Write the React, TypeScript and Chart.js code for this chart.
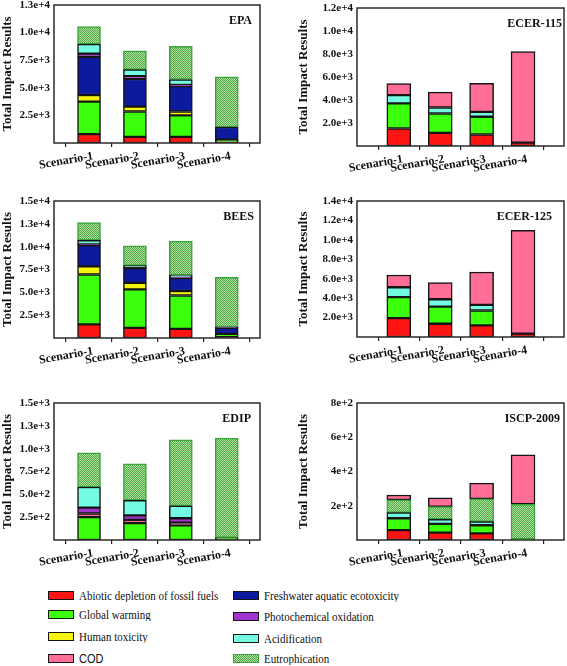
import React, { useEffect, useRef } from 'react';
import { Chart, registerables } from 'chart.js';

Chart.register(...registerables);

const SCENARIOS = ['Scenario-1', 'Scenario-2', 'Scenario-3', 'Scenario-4'];
const Y_TITLE = 'Total Impact Results';

// Impact categories
const ABIOTIC = 'Abiotic depletion of fossil fuels';
const GLOBAL = 'Global warming';
const HUMAN = 'Human toxicity';
const COD = 'COD';
const FRESH = 'Freshwater aquatic ecotoxicity';
const PHOTO = 'Photochemical oxidation';
const ACID = 'Acidification';
const EUTRO = 'Eutrophication';

// EPA
const EPA_ABIOTIC = [800, 550, 550, 50];
const EPA_GLOBAL = [2950, 2300, 1950, 250];
const EPA_HUMAN = [600, 450, 350, 0];
const EPA_FRESH = [3450, 2500, 2300, 1150];
const EPA_PHOTO = [300, 250, 100, 0];
const EPA_ACID = [850, 600, 500, 0];
const EPA_EUTRO = [1600, 1700, 3000, 4550];

// BEES
const BEES_ABIOTIC = [1500, 1100, 1000, 100];
const BEES_GLOBAL = [5450, 4230, 3650, 350];
const BEES_HUMAN = [900, 700, 500, 0];
const BEES_FRESH = [2300, 1600, 1400, 650];
const BEES_PHOTO = [100, 50, 100, 100];
const BEES_ACID = [450, 250, 250, 0];
const BEES_EUTRO = [1950, 2150, 3700, 5450];

// EDIP
const EDIP_GLOBAL = [250, 185, 160, 25];
const EDIP_COD = [40, 35, 30, 0];
const EDIP_PHOTO = [65, 50, 48, 0];
const EDIP_ACID = [225, 165, 135, 0];
const EDIP_EUTRO = [375, 400, 725, 1090];

// ECER-115
const E115_ABIOTIC = [1520, 1140, 1000, 300];
const E115_GLOBAL = [2190, 1690, 1540, 0];
const E115_ACID = [720, 520, 430, 0];
const E115_COD = [990, 1340, 2480, 7920];

// ECER-125
const E125_ABIOTIC = [1950, 1360, 1190, 340];
const E125_GLOBAL = [2150, 1770, 1540, 0];
const E125_ACID = [1020, 760, 580, 0];
const E125_COD = [1260, 1700, 3380, 10650];

// ISCP-2009
const ISCP_ABIOTIC = [58, 43, 39, 0];
const ISCP_GLOBAL = [69, 51, 47, 5];
const ISCP_ACID = [33, 27, 21, 0];
const ISCP_EUTRO = [74, 74, 133, 204];
const ISCP_COD = [29, 51, 92, 288];

const COLORS: Record<string, string> = {
  [ABIOTIC]: '#ff1414',
  [GLOBAL]: '#3cff0c',
  [HUMAN]: '#f4f40c',
  [COD]: '#ff6e96',
  [FRESH]: '#0c1a9e',
  [PHOTO]: '#a034cc',
  [ACID]: '#74fce2',
  [EUTRO]: 'pattern',
};

const LEGEND_LEFT = [ABIOTIC, GLOBAL, HUMAN, COD];
const LEGEND_RIGHT = [FRESH, PHOTO, ACID, EUTRO];

const SERIF = '"Liberation Serif", "Times New Roman", serif';
const SANS = '"Liberation Sans", Arial, sans-serif';

const PAT_DARK = '#4fa645';
const PAT_LIGHT = '#b2e2a2';

type Box = { x: number; y: number; w: number; h: number };
type Rect = { left: number; top: number; right: number; bottom: number };
type PanelCfg = {
  title: string;
  titlePad: number;
  yMax: number;
  yStep: number;
  digits: number;
  xMin: number;
  xMax: number;
  barWidth: number;
  box: Box;
  plot: Rect;
  series: [string, number[]][];
};

const LEFT_X = { xMin: -0.763, xMax: 3.725, barWidth: 23 };
const RIGHT_X = { xMin: -1.01, xMax: 3.99, barWidth: 24 };

const PANELS: PanelCfg[] = [
  {
    title: 'EPA', titlePad: 8, yMax: 12500, yStep: 2500, digits: 1, ...LEFT_X,
    box: { x: 0, y: 0, w: 283, h: 185 },
    plot: { left: 54, top: 5, right: 260, bottom: 143 },
    series: [[ABIOTIC, EPA_ABIOTIC], [GLOBAL, EPA_GLOBAL], [HUMAN, EPA_HUMAN], [FRESH, EPA_FRESH], [PHOTO, EPA_PHOTO], [ACID, EPA_ACID], [EUTRO, EPA_EUTRO]],
  },
  {
    title: 'ECER-115', titlePad: 2, yMax: 12000, yStep: 2000, digits: 1, ...RIGHT_X,
    box: { x: 296, y: 0, w: 271, h: 185 },
    plot: { left: 357, top: 8, right: 564, bottom: 146 },
    series: [[ABIOTIC, E115_ABIOTIC], [GLOBAL, E115_GLOBAL], [ACID, E115_ACID], [COD, E115_COD]],
  },
  {
    title: 'BEES', titlePad: 6, yMax: 15000, yStep: 2500, digits: 1, ...LEFT_X,
    box: { x: 0, y: 190, w: 283, h: 190 },
    plot: { left: 54, top: 201, right: 260, bottom: 338 },
    series: [[ABIOTIC, BEES_ABIOTIC], [GLOBAL, BEES_GLOBAL], [HUMAN, BEES_HUMAN], [FRESH, BEES_FRESH], [PHOTO, BEES_PHOTO], [ACID, BEES_ACID], [EUTRO, BEES_EUTRO]],
  },
  {
    title: 'ECER-125', titlePad: 12, yMax: 14000, yStep: 2000, digits: 1, ...RIGHT_X,
    box: { x: 296, y: 190, w: 271, h: 190 },
    plot: { left: 357, top: 201, right: 564, bottom: 337 },
    series: [[ABIOTIC, E125_ABIOTIC], [GLOBAL, E125_GLOBAL], [ACID, E125_ACID], [COD, E125_COD]],
  },
  {
    title: 'EDIP', titlePad: 9, yMax: 1500, yStep: 250, digits: 1, ...LEFT_X,
    box: { x: 0, y: 385, w: 283, h: 185 },
    plot: { left: 54, top: 403, right: 260, bottom: 540 },
    series: [[GLOBAL, EDIP_GLOBAL], [COD, EDIP_COD], [PHOTO, EDIP_PHOTO], [ACID, EDIP_ACID], [EUTRO, EDIP_EUTRO]],
  },
  {
    title: 'ISCP-2009', titlePad: 4, yMax: 800, yStep: 200, digits: 0, ...RIGHT_X,
    box: { x: 296, y: 385, w: 271, h: 185 },
    plot: { left: 357, top: 403, right: 564, bottom: 540 },
    series: [[ABIOTIC, ISCP_ABIOTIC], [GLOBAL, ISCP_GLOBAL], [ACID, ISCP_ACID], [EUTRO, ISCP_EUTRO], [COD, ISCP_COD]],
  },
];

function makePattern(): CanvasPattern | string {
  const c = document.createElement('canvas');
  c.width = 2;
  c.height = 2;
  const g = c.getContext('2d');
  if (!g) return '#8fcf7f';
  g.fillStyle = PAT_LIGHT;
  g.fillRect(0, 0, 2, 2);
  g.fillStyle = PAT_DARK;
  g.fillRect(0, 0, 1, 1);
  g.fillRect(1, 1, 1, 1);
  return g.createPattern(c, 'repeat') || '#8fcf7f';
}

function Panel({ cfg }: { cfg: PanelCfg }) {
  const ref = useRef<HTMLCanvasElement>(null);
  useEffect(() => {
    if (!ref.current) return;
    const pattern = makePattern();
    const { plot, box } = cfg;
    const yWidth = plot.left - box.x;
    const xHeight = box.y + box.h - plot.bottom;
    const padTop = plot.top - box.y;
    const padRight = box.x + box.w - plot.right;

    const datasets = cfg.series.map(([name, values]) => ({
      label: name,
      data: values.map((v, i) => ({ x: i, y: v })),
      backgroundColor: name === EUTRO ? pattern : COLORS[name],
      borderColor: name === EUTRO ? '#3aa53a' : '#151515',
      borderWidth: 1.5,
      borderSkipped: false as const,
      barThickness: cfg.barWidth,
      stack: 'all',
    }));

    const framePlugin = {
      id: 'frameAndTitle',
      afterDatasetsDraw(chart: any) {
        const { ctx, chartArea: a } = chart;
        ctx.save();
        ctx.strokeStyle = '#2b2b2b';
        ctx.lineWidth = 1.5;
        ctx.strokeRect(a.left, a.top, a.right - a.left, a.bottom - a.top);
        ctx.font = `bold 12px ${SERIF}`;
        ctx.fillStyle = '#111';
        ctx.textAlign = 'right';
        ctx.textBaseline = 'top';
        ctx.fillText(cfg.title, a.right - cfg.titlePad, a.top + 10);
        ctx.restore();
      },
    };

    const chart = new Chart(ref.current, {
      type: 'bar',
      data: { datasets: datasets as any },
      options: {
        animation: false,
        responsive: false,
        layout: { padding: { top: padTop, right: padRight, left: 0, bottom: 0 } },
        plugins: { legend: { display: false }, tooltip: { enabled: false } },
        scales: {
          x: {
            type: 'linear',
            stacked: true,
            min: cfg.xMin,
            max: cfg.xMax,
            offset: false,
            afterBuildTicks: (s: any) => {
              s.ticks = SCENARIOS.map((_, i) => ({ value: i }));
            },
            afterFit: (s: any) => {
              s.height = xHeight;
              s.paddingLeft = 0;
              s.paddingRight = 0;
            },
            ticks: {
              autoSkip: false,
              minRotation: 10,
              maxRotation: 10,
              padding: 2,
              labelOffset: 4,
              color: '#111',
              font: { family: SERIF, size: 12, weight: 'bold' },
              callback: (v: any) => SCENARIOS[Math.round(Number(v))] ?? '',
            },
            grid: { display: true, drawOnChartArea: false, drawTicks: true, tickLength: 4, color: '#222', lineWidth: 1.2 },
            border: { display: false },
          },
          y: {
            stacked: true,
            min: 0,
            max: cfg.yMax,
            afterFit: (s: any) => {
              s.width = yWidth;
              s.paddingTop = 0;
              s.paddingBottom = 0;
            },
            ticks: {
              stepSize: cfg.yStep,
              padding: 4,
              color: '#111',
              font: { family: SERIF, size: 11, weight: 'bold' },
              callback: (v: any) => (Number(v) === 0 ? '' : Number(v).toExponential(cfg.digits)),
            },
            grid: { display: false, drawTicks: false },
            border: { display: false },
            title: {
              display: true,
              text: Y_TITLE,
              color: '#111',
              padding: 0,
              font: { family: SERIF, size: 13, weight: 'bold' },
            },
          },
        },
      } as any,
      plugins: [framePlugin],
    });
    return () => chart.destroy();
  }, [cfg]);

  return (
    <canvas
      ref={ref}
      width={cfg.box.w}
      height={cfg.box.h}
      style={{ position: 'absolute', left: cfg.box.x, top: cfg.box.y, width: cfg.box.w, height: cfg.box.h }}
    />
  );
}

const LEGEND_ROWS_LEFT = [595, 614, 636, 658];
const LEGEND_ROWS_RIGHT = [595, 616, 638, 658];

function LegendItem({ name, x, y }: { name: string; x: number; y: number }) {
  const isPattern = name === EUTRO;
  const swatch: React.CSSProperties = {
    position: 'absolute',
    left: 0,
    top: 4,
    width: 24,
    height: 7,
    border: `1.5px solid ${isPattern ? '#3aa53a' : '#151515'}`,
    background: isPattern
      ? `repeating-conic-gradient(${PAT_DARK} 0 25%, ${PAT_LIGHT} 0 50%) 0 0 / 2px 2px`
      : COLORS[name],
  };
  return (
    <div style={{ position: 'absolute', left: x, top: y - 8, height: 16, width: 230 }}>
      <div style={swatch} />
      <span
        style={{
          position: 'absolute',
          left: 31,
          top: 0,
          lineHeight: '16px',
          fontSize: 11,
          fontFamily: name === COD ? SANS : SERIF,
          color: '#111',
          whiteSpace: 'nowrap',
          transform: 'scaleY(1.15)',
          transformOrigin: '0 50%',
        }}
      >
        {name}
      </span>
    </div>
  );
}

export default function App() {
  return (
    <div style={{ position: 'absolute', left: 0, top: 0, width: 567, height: 666, background: '#fff' }}>
      {PANELS.map((p) => (
        <Panel key={p.title} cfg={p} />
      ))}
      {LEGEND_LEFT.map((n, i) => (
        <LegendItem key={n} name={n} x={48} y={LEGEND_ROWS_LEFT[i]} />
      ))}
      {LEGEND_RIGHT.map((n, i) => (
        <LegendItem key={n} name={n} x={233} y={LEGEND_ROWS_RIGHT[i]} />
      ))}
    </div>
  );
}
